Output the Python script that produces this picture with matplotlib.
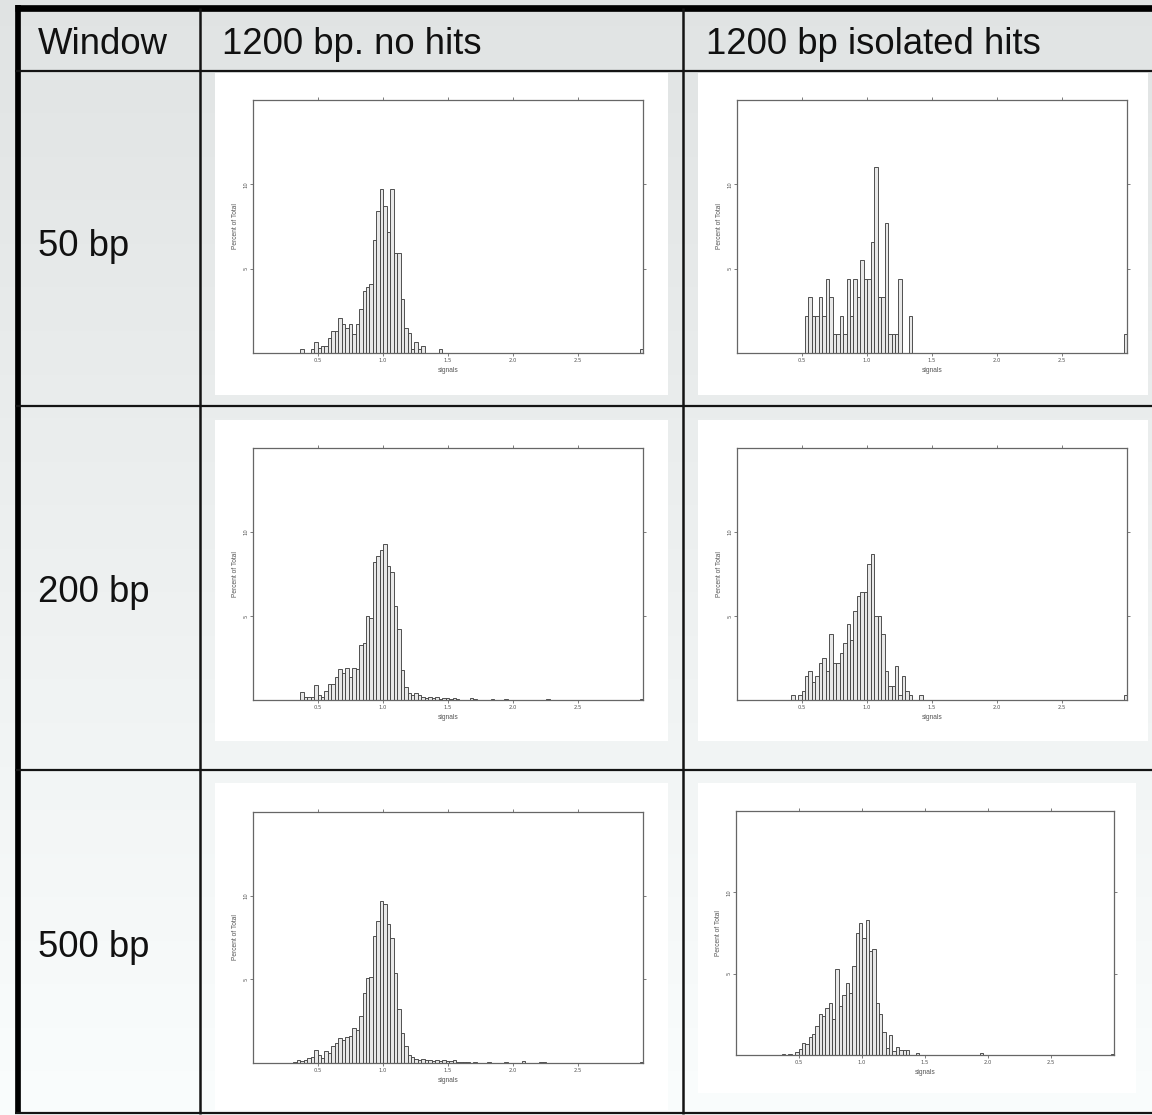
import numpy as np
import matplotlib.pyplot as plt
from matplotlib.patches import Rectangle

W, H = 1152, 1115

COL_HEADERS = ['Window', '1200 bp. no hits', '1200 bp isolated hits']
ROW_LABELS = ['50 bp', '200 bp', '500 bp']

# histogram bins (signals)
BIN_START, BIN_END, N_BINS = 0.15, 3.0, 107
X_TICKS = [0.5, 1.0, 1.5, 2.0, 2.5]
Y_TICKS = [5, 10]

# percent of total per bin; list starts at bin index *_START, *_TAIL are isolated bins
NOHITS_50_START = 8
NOHITS_50 = [0.24, 0, 0, 0.24, 0.63, 0.3, 0.43, 0.43, 0.9, 1.3, 1.3, 2.1, 1.7, 1.5,
             1.7, 1.1, 1.7, 2.6, 3.7, 3.9, 4.1, 6.7, 8.4, 9.7, 8.7, 7.2, 9.7, 5.9,
             5.9, 3.2, 1.5, 1.2, 0.24, 0.63, 0.24, 0.43]
NOHITS_50_TAIL_IDX = [48, 106]
NOHITS_50_TAIL = [0.24, 0.24]

HITS_50_START = 14
HITS_50 = [2.2, 3.3, 2.2, 2.2, 3.3, 2.2, 4.4, 3.3, 1.1, 1.1, 2.2, 1.1, 4.4, 2.2,
           4.4, 3.3, 5.5, 4.4, 4.4, 6.6, 11.0, 3.3, 3.3, 7.7, 1.1, 1.1, 1.1, 4.4]
HITS_50_TAIL_IDX = [44, 106]
HITS_50_TAIL = [2.2, 1.1]

NOHITS_200_START = 8
NOHITS_200 = [0.5, 0.15, 0.15, 0.15, 0.9, 0.3, 0.2, 0.55, 0.95, 0.95, 1.35, 1.85,
              1.6, 1.9, 1.35, 1.9, 1.85, 3.3, 3.4, 5.0, 4.9, 8.2, 8.6, 8.9, 9.3,
              8.0, 7.6, 5.6, 4.2, 1.8, 0.8, 0.4, 0.3, 0.4, 0.3, 0.2, 0.1, 0.15,
              0.1, 0.15, 0.05, 0.1, 0.1, 0.05, 0.1, 0.05]
NOHITS_200_TAIL_IDX = [57, 58, 63, 67, 79, 106]
NOHITS_200_TAIL = [0.1, 0.05, 0.05, 0.05, 0.05, 0.05]

HITS_200_START = 10
HITS_200 = [0.3, 0, 0.3, 0.55, 1.4, 1.7, 1.1, 1.4, 2.2, 2.5, 1.7, 3.9, 2.2, 2.2,
            2.8, 3.4, 4.5, 3.6, 5.3, 6.2, 6.4, 6.4, 8.1, 8.7, 5.0, 5.0, 3.9, 1.7,
            0.85, 0.85, 2.0, 0.3, 1.4, 0.55, 0.3]
HITS_200_TAIL_IDX = [47, 106]
HITS_200_TAIL = [0.3, 0.3]

NOHITS_500_START = 6
NOHITS_500 = [0.05, 0.2, 0.1, 0.15, 0.3, 0.35, 0.8, 0.5, 0.3, 0.7, 0.6, 1.0, 1.2,
              1.5, 1.4, 1.55, 1.6, 2.1, 2.0, 2.8, 4.2, 5.1, 5.15, 7.6, 8.5, 9.7,
              9.5, 8.3, 7.5, 5.4, 3.2, 1.8, 1.0, 0.5, 0.35, 0.25, 0.2, 0.25, 0.15,
              0.15, 0.1, 0.15, 0.1, 0.15, 0.1, 0.1, 0.15, 0.05, 0.08, 0.05, 0.05]
NOHITS_500_TAIL_IDX = [58, 62, 67, 72, 77, 78, 106]
NOHITS_500_TAIL = [0.05, 0.05, 0.05, 0.1, 0.05, 0.05, 0.05]

HITS_500_START = 8
HITS_500 = [0.05, 0, 0.05, 0, 0.2, 0.35, 0.75, 0.65, 1.1, 1.3, 1.8, 2.5, 2.4, 2.9,
            3.2, 2.2, 5.3, 3.0, 3.7, 4.4, 3.8, 5.5, 7.5, 8.1, 7.2, 8.3, 6.4, 6.5,
            3.2, 2.5, 1.4, 0.4, 1.2, 0.25, 0.5, 0.3, 0.3, 0.3]
HITS_500_TAIL_IDX = [48, 67, 106]
HITS_500_TAIL = [0.1, 0.1, 0.05]

# --- layout in pixels ---
COL_X = [200, 683]
ROW_Y = [71, 406, 770, 1113]
IMAGES = [[(215, 73, 668, 395), (698, 73, 1148, 395)],
          [(215, 420, 668, 741), (698, 420, 1148, 741)],
          [(215, 783, 668, 1110), (698, 783, 1136, 1093)]]
FRAMES = [[(253, 100, 643, 353), (737, 100, 1127, 353)],
          [(253, 448, 643, 700), (737, 448, 1127, 700)],
          [(253, 812, 643, 1063), (736, 811, 1114, 1055)]]


def full_counts(start, vals, tail_idx, tail_vals):
    h = np.zeros(N_BINS)
    h[start:start + len(vals)] = vals
    h[tail_idx] = tail_vals
    return h


PANELS = [
    [full_counts(NOHITS_50_START, NOHITS_50, NOHITS_50_TAIL_IDX, NOHITS_50_TAIL),
     full_counts(HITS_50_START, HITS_50, HITS_50_TAIL_IDX, HITS_50_TAIL)],
    [full_counts(NOHITS_200_START, NOHITS_200, NOHITS_200_TAIL_IDX, NOHITS_200_TAIL),
     full_counts(HITS_200_START, HITS_200, HITS_200_TAIL_IDX, HITS_200_TAIL)],
    [full_counts(NOHITS_500_START, NOHITS_500, NOHITS_500_TAIL_IDX, NOHITS_500_TAIL),
     full_counts(HITS_500_START, HITS_500, HITS_500_TAIL_IDX, HITS_500_TAIL)],
]

FONT = ['Liberation Sans', 'DejaVu Sans']
LINE = '#141414'

fig = plt.figure(figsize=(W / 100, H / 100), dpi=100)
bg = fig.add_axes([0, 0, 1, 1])
bg.set_xlim(0, W)
bg.set_ylim(H, 0)
bg.axis('off')

# vertical grey gradient behind the table
v = np.linspace(0.892, 0.992, 256)[:, None]
grad = np.dstack([v - 0.012, v, v]) * np.ones((1, 2, 1))
bg.imshow(np.clip(grad, 0, 1), extent=[0, W, H, 0], aspect='auto', zorder=0)

for row in IMAGES:
    for (x0, y0, x1, y1) in row:
        bg.add_patch(Rectangle((x0, y0), x1 - x0, y1 - y0, facecolor='white',
                               edgecolor='none', zorder=1))

# table rules
bg.plot([17.8, 17.8], [5, 1114], color='black', lw=4.1, zorder=3,
        solid_capstyle='butt')
bg.plot([15, W], [8.3, 8.3], color='black', lw=4.8, zorder=3,
        solid_capstyle='butt')
for x in COL_X:
    bg.plot([x, x], [8, 1114], color=LINE, lw=1.8, zorder=3,
            solid_capstyle='butt')
for y in ROW_Y:
    bg.plot([15, W], [y, y], color=LINE, lw=1.6, zorder=3,
            solid_capstyle='butt')

# header and row labels
HEADER_X = [38, 222, 706]
for label, x in zip(COL_HEADERS, HEADER_X):
    bg.text(x, 54, label, fontsize=26.3, family=FONT, va='baseline',
            color='#111111', zorder=4)
for label, yb in zip(ROW_LABELS, [256, 602, 957]):
    bg.text(38, yb, label, fontsize=26.3, family=FONT, va='baseline',
            color='#111111', zorder=4)

edges = np.linspace(BIN_START, BIN_END, N_BINS + 1)
width = edges[1] - edges[0]

for r in range(3):
    for c in range(2):
        x0, y0, x1, y1 = FRAMES[r][c]
        ax = fig.add_axes([x0 / W, 1 - y1 / H, (x1 - x0) / W, (y1 - y0) / H])
        ax.set_facecolor('white')
        ax.bar(edges[:-1], PANELS[r][c], width=width, align='edge',
               color='#e8e8e8', edgecolor='#444444', linewidth=0.65)
        ax.set_xlim(0, 3.0)
        ax.set_ylim(0, 15.0)
        ax.set_xticks(X_TICKS)
        ax.set_xticklabels(['%.1f' % t for t in X_TICKS])
        ax.set_yticks(Y_TICKS)
        ax.set_yticklabels([str(t) for t in Y_TICKS], rotation=90, va='center')
        ax.tick_params(direction='out', length=2, width=0.6, color='#666666',
                       labelsize=3.8, labelcolor='#555555', pad=1.5,
                       top=True, right=True, labeltop=False, labelright=False)
        for sp in ax.spines.values():
            sp.set_color('#666666')
            sp.set_linewidth(0.9)
        ax.set_xlabel('signals', fontsize=4.8, color='#555555', labelpad=3,
                      family=FONT)
        ax.set_ylabel('Percent of Total', fontsize=4.8, color='#555555',
                      labelpad=3, family=FONT)

fig.savefig('out.png', dpi=100)
